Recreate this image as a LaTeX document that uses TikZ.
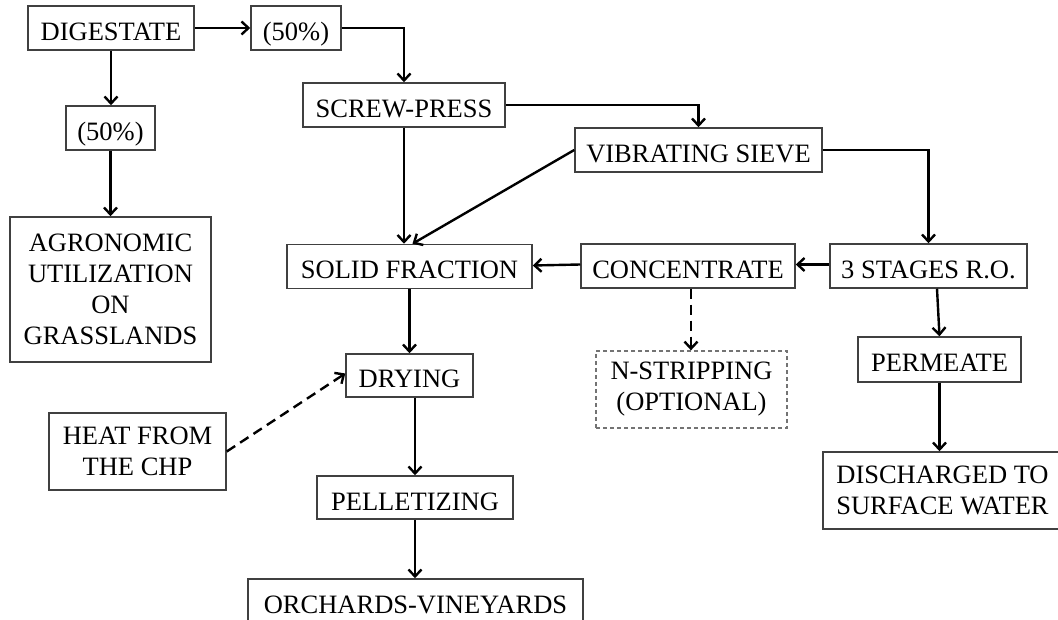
\documentclass[tikz,border=0pt]{standalone}
\usepackage{fontspec}
\setmainfont{Liberation Serif}
\usetikzlibrary{arrows.meta}
\begin{document}
\begin{tikzpicture}[x=1pt,y=-1pt,
  box/.style={draw=black!75,line width=1.5pt,inner sep=0pt,align=center,
    font=\fontsize{26.5}{31}\selectfont},
  one/.style={box,text height=25pt,text depth=0pt},
  dbox/.style={box,draw=black!55,line width=1.3pt,dash pattern=on 4pt off 3pt},
  arr/.style={line width=2.4pt,-{Straight Barb[length=7pt,width=13pt]}},
  darr/.style={arr,dash pattern=on 10pt off 6pt}]
\useasboundingbox (0,0) rectangle (1058,620);
\clip (0,0) rectangle (1058,620);
\node[one,minimum width=166pt,minimum height=44pt] (dig) at (111,28) {DIGESTATE};
\node[one,minimum width=90pt,minimum height=44pt] (p50a) at (296,28) {(50\%)};
\node[one,minimum width=89pt,minimum height=44pt] (p50b) at (110.5,128) {(50\%)};
\node[one,minimum width=202pt,minimum height=44pt] (screw) at (404,105) {SCREW-PRESS};
\node[one,minimum width=247pt,minimum height=44pt] (sieve) at (698.5,150) {VIBRATING SIEVE};
\node[one,minimum width=197pt,minimum height=44pt] (ro) at (928.5,266) {3 STAGES R.O.};
\node[one,minimum width=214pt,minimum height=44pt] (conc) at (688,266) {CONCENTRATE};
\node[one,minimum width=245pt,minimum height=44pt] (solid) at (409.5,266.5) {SOLID FRACTION};
\node[box,minimum width=201pt,minimum height=145pt] (agro) at (110.5,289.5) {AGRONOMIC\\UTILIZATION\\ON\\GRASSLANDS};
\node[one,minimum width=127pt,minimum height=43pt] (dry) at (409.5,375.5) {DRYING};
\node[box,minimum width=177pt,minimum height=77pt] (heat) at (137.5,451.5) {HEAT FROM\\THE CHP};
\node[one,minimum width=196pt,minimum height=43pt] (pel) at (415,497.5) {PELLETIZING};
\node[one,minimum width=335pt,minimum height=44pt] (orch) at (415.5,601) {ORCHARDS-VINEYARDS};
\node[dbox,minimum width=191pt,minimum height=77pt] (nstr) at (691.5,389.5) {N-STRIPPING\\(OPTIONAL)};
\node[one,minimum width=163pt,minimum height=45pt] (perm) at (939.5,359.5) {PERMEATE};
\node[box,minimum width=239pt,minimum height=77pt] (dis) at (942.5,490.5) {DISCHARGED TO\\SURFACE WATER};

\draw[arr] (dig) -- (p50a);
\draw[arr] (p50a.east) -| (screw.north);
\draw[arr] (dig.south) -- (dig.south |- p50b.north);
\draw[arr] (p50b.south) -- (p50b.south |- agro.north);
\draw[arr] (screw.east) -| (sieve.north);
\draw[arr] (sieve.east) -| (ro.north);
\draw[arr] ([yshift=1.5pt]ro.west) -- ([yshift=1.5pt]conc.east);
\draw[arr] ([yshift=1.5pt]conc.west) -- ([yshift=1pt]solid.east);
\draw[arr] (screw.south) -- (screw.south |- solid.north);
\draw[arr] (sieve.west) -- ([xshift=3pt]solid.north);
\draw[arr] (solid.south) -- (dry.north);
\draw[darr] (heat.east) -- ([yshift=2pt]dry.west);
\draw[arr] (pel.north |- dry.south) -- (pel.north);
\draw[arr] (pel.south) -- (pel.south |- orch.north);
\draw[darr] ([xshift=3pt]conc.south) -- ([xshift=3pt]conc.south |- nstr.north);
\draw[arr] ([xshift=8.5pt]ro.south) -- (perm.north);
\draw[arr] (perm.south) -- (perm.south |- dis.north);
\end{tikzpicture}
\end{document}
